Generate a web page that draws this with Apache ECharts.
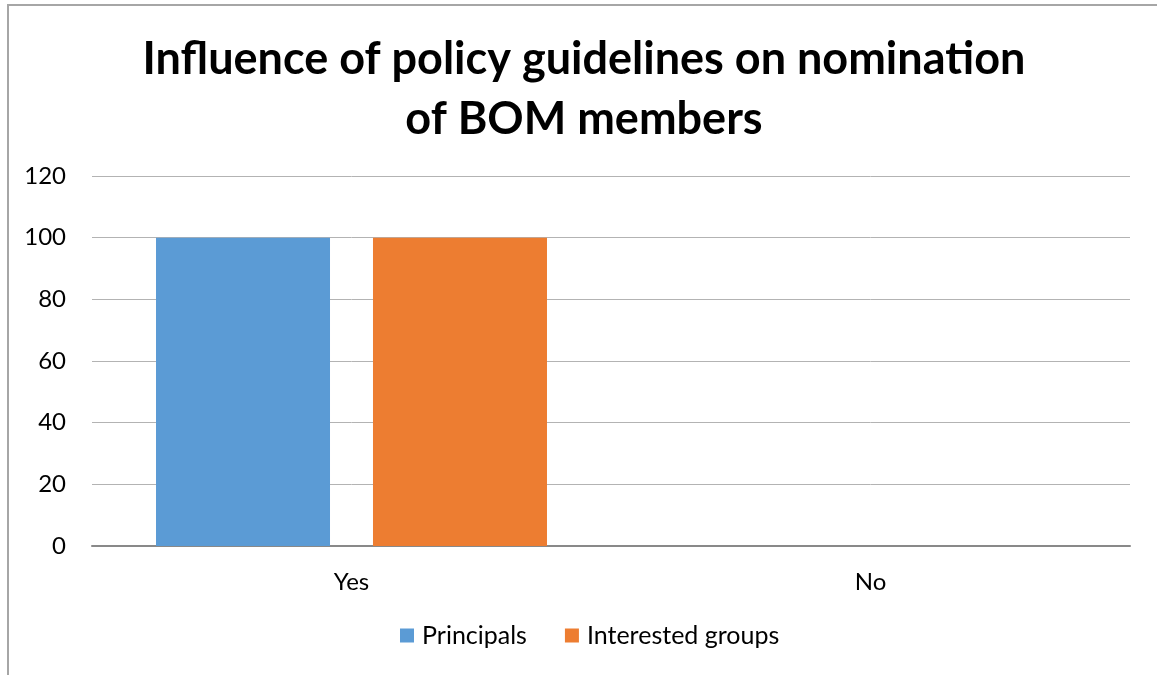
<!DOCTYPE html>
<html>
<head>
<meta charset="utf-8">
<script src="https://cdn.jsdelivr.net/npm/echarts@6/dist/echarts.min.js"></script>
<style>
  html, body { margin: 0; padding: 0; background: #fff; }
  #chart { width: 1157px; height: 675px; }
</style>
</head>
<body>
<div id="chart"></div>
<script>
// Responses per category, in percent
const categories = ['Yes', 'No'];
const principals = [100, 0];
const interestedGroups = [100, 0];
const seriesNames = ['Principals', 'Interested groups'];

const font = 'Lato, "Open Sans", sans-serif';
const chart = echarts.init(document.getElementById('chart'));

chart.setOption({
  animation: false,
  backgroundColor: '#fff',
  title: {
    text: 'Influence of policy guidelines on nomination\nof BOM members',
    left: 579,
    textAlign: 'center',
    top: 24,
    textStyle: {
      fontFamily: font,
      fontSize: 45,
      fontWeight: 'bold',
      color: '#000',
      lineHeight: 60
    }
  },
  graphic: [{
    type: 'rect',
    shape: { x: 8, y: 5, width: 1300, height: 800 },
    style: { fill: 'none', stroke: '#a6a6a6', lineWidth: 2 },
    silent: true
  }],
  grid: { left: 92, right: 27, top: 176, bottom: 129 },
  legend: {
    bottom: 22,
    left: 395,
    padding: 5,
    itemWidth: 14,
    itemHeight: 14,
    itemGap: 38,
    icon: 'rect',
    textStyle: { fontFamily: font, fontSize: 25, color: '#000', padding: [0, 0, 0, 3] },
    data: seriesNames
  },
  xAxis: {
    type: 'category',
    data: categories,
    axisLine: { lineStyle: { color: '#898989', width: 2 } },
    axisTick: { show: false },
    axisLabel: { fontFamily: font, fontSize: 24, color: '#000', margin: 24 }
  },
  yAxis: {
    type: 'value',
    min: 0,
    max: 120,
    interval: 20,
    axisLine: { show: false },
    axisTick: { show: false },
    splitLine: { lineStyle: { color: '#b3b3b3', width: 1 } },
    axisLabel: { fontFamily: font, fontSize: 24, color: '#000', margin: 26 }
  },
  series: [
    {
      name: seriesNames[0],
      type: 'bar',
      data: principals,
      barWidth: 174,
      barGap: '24.7%',
      itemStyle: { color: '#5b9bd5' }
    },
    {
      name: seriesNames[1],
      type: 'bar',
      data: interestedGroups,
      barWidth: 174,
      itemStyle: { color: '#ed7d31' }
    }
  ]
});
</script>
</body>
</html>
